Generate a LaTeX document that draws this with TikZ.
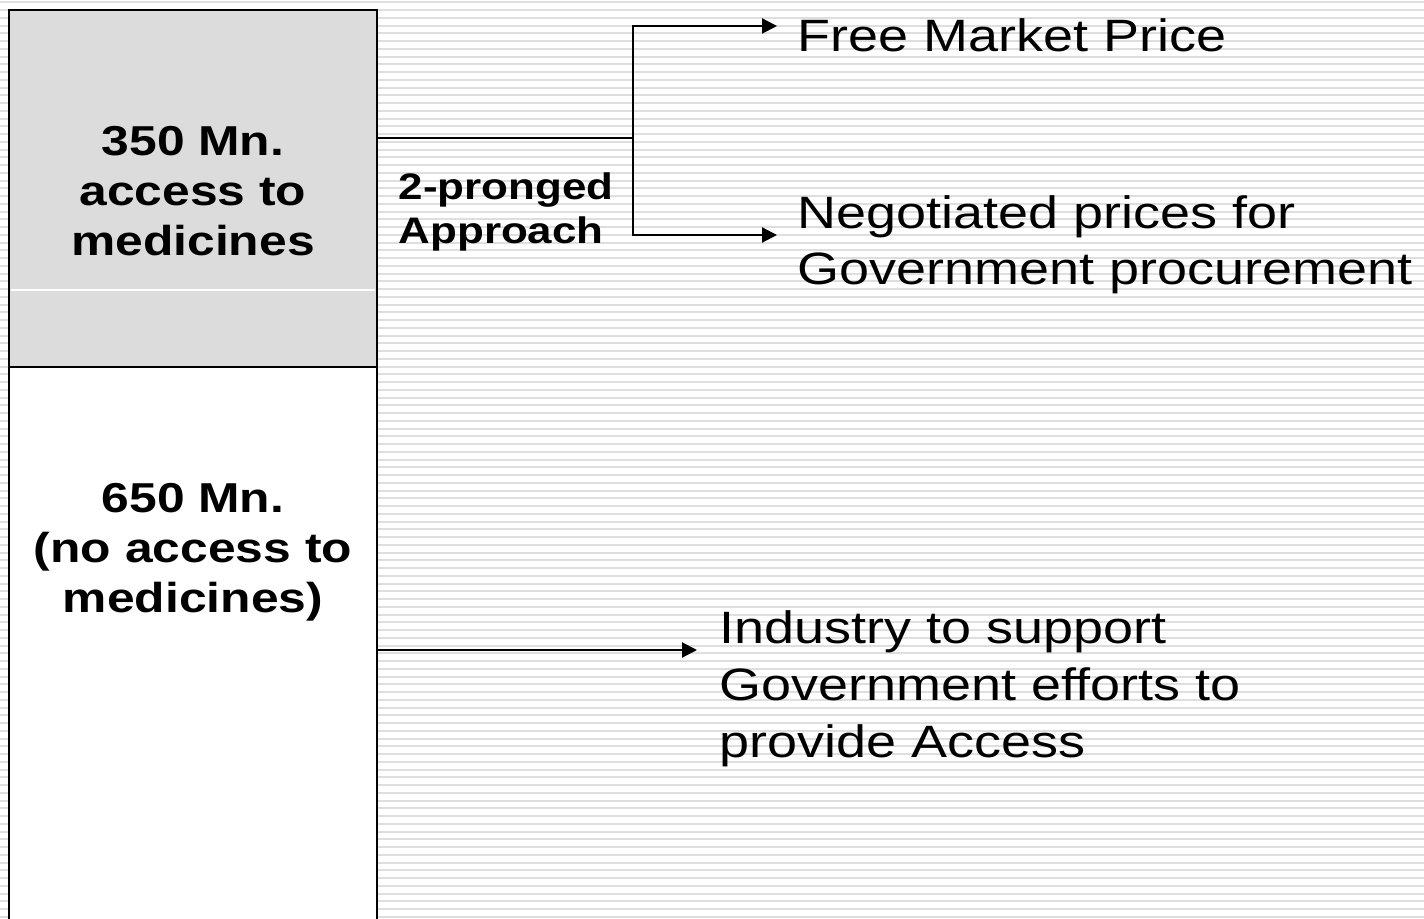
\documentclass[tikz,border=0pt]{standalone}
\usepackage{fontspec}
\setmainfont[FakeStretch=1.19]{Liberation Sans}
\usetikzlibrary{arrows.meta}

\definecolor{boxgray}{HTML}{DCDCDC}
\definecolor{stripegray}{HTML}{DEDEDE}

\tikzset{
  popbox/.style={draw=black, line width=0.75pt, minimum width=3.68cm, inner sep=0pt},
  poptext/.style={inner sep=0pt, align=center, font=\bfseries\fontsize{11.9}{14.2}\selectfont},
  lbl/.style={anchor=base west, inner sep=0pt, align=left, font=\fontsize{12.9}{16.2}\selectfont},
  link/.style={line width=0.6pt},
}

\begin{document}
\begin{tikzpicture}[>={Triangle[length=0.15cm,width=0.15cm]}]
  \useasboundingbox (0,0) rectangle (14.24,9.18);
  % ruled background
  \foreach \k in {0,...,118}
    \draw[stripegray, line width=0.02cm] (0,{9.155-0.0775*\k}) -- (14.24,{9.155-0.0775*\k});

  % population blocks
  \node[popbox, fill=boxgray, minimum height=3.57cm] (have) at (1.93,7.295) {};
  \node[popbox, fill=white, minimum height=5.71cm] (nohave) at (1.93,2.655) {};
  \draw[white, line width=0.3pt] (0.11,6.28) -- (3.75,6.28);
  \node[poptext] (havetext) at (1.93,7.27) {350 Mn.\\access to\\medicines};
  \node[poptext] (nohavetext) at (1.93,3.66) {650 Mn.\\(no access to\\medicines)};

  % outcomes (base = last line)
  \node[font=\bfseries\fontsize{10.5}{12.8}\selectfont, anchor=base west, inner sep=0pt, align=left]
    (approach) at (3.98,6.74) {2-pronged\\Approach};
  \node[lbl] (free) at (7.97,8.66) {Free Market Price};
  \node[lbl] (nego) at (7.97,6.33) {Negotiated prices for\\Government procurement};
  \node[lbl] (industry) at (7.19,1.61) {Industry to support\\Government efforts to\\provide Access};

  \coordinate (fork) at (6.33,7.80);
  \coordinate (freetip) at (7.77,8.92);
  \coordinate (negotip) at (7.77,6.83);
  \coordinate (lowtip) at (6.97,2.68);

  \draw[link] (have.east |- fork) -- (fork);
  \draw[link,->] (fork) |- (freetip);
  \draw[link,->] (fork) |- (negotip);
  \draw[link,->] (nohave.east |- lowtip) -- (lowtip);
\end{tikzpicture}
\end{document}
